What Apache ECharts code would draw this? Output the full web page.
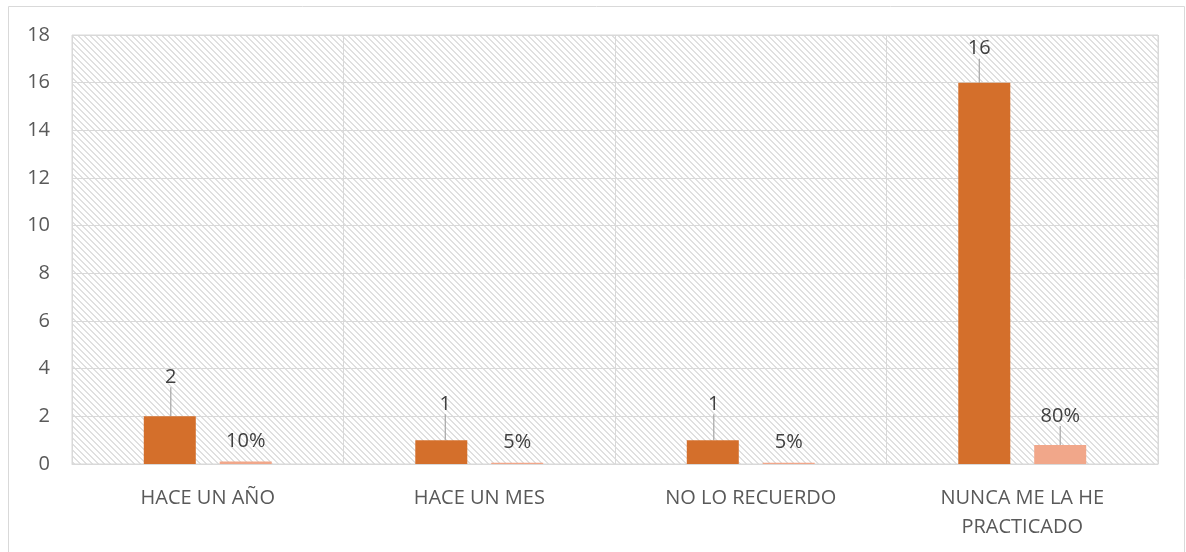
<!DOCTYPE html>
<html>
<head>
<meta charset="utf-8">
<script src="https://cdn.jsdelivr.net/npm/echarts@6/dist/echarts.min.js"></script>
<style>
  html, body { margin: 0; padding: 0; background: #fff; }
  #chart { width: 1186px; height: 552px; }
</style>
</head>
<body>
<div id="chart"></div>
<script>
// categorías y valores
const categories = ['HACE UN AÑO', 'HACE UN MES', 'NO LO RECUERDO', 'NUNCA ME LA HE\nPRACTICADO'];
const counts = [2, 1, 1, 16];
const shares = [0.10, 0.05, 0.05, 0.80];
const yTicks = { min: 0, max: 18, interval: 2 };

// desplazamiento manual de etiquetas (como en Excel)
const countLabelShift = [[1, -24], [4, -21], [1, -21], [-5, -19]];
const shareLabelShift = [[0, -5], [0, -6], [0, -6], [0, -14]];

function hatch() {
  const n = 6;
  const c = document.createElement('canvas');
  c.width = n; c.height = n;
  const g = c.getContext('2d');
  g.fillStyle = '#e0e0e0';
  for (let i = 0; i < n; i++) {
    g.fillRect(i, i, 1, 1);
    g.fillRect((i + 1) % n, i, 1, 1);
  }
  return c;
}

const chart = echarts.init(document.getElementById('chart'), null, { renderer: 'canvas' });
const font = 'Open Sans, Noto Sans, sans-serif';

chart.setOption({
  animation: false,
  textStyle: { fontFamily: font },
  graphic: [{
    type: 'rect', silent: true, z: -10,
    shape: { x: 8.5, y: 6.5, width: 1176, height: 570 },
    style: { fill: '#fff', stroke: '#d9d9d9', lineWidth: 1 }
  }],
  grid: {
    left: 72, right: 28, top: 35, bottom: 88,
    show: true,
    borderColor: '#d9d9d9',
    borderWidth: 1,
    backgroundColor: { image: hatch(), repeat: 'repeat' }
  },
  xAxis: {
    type: 'category',
    data: categories,
    axisTick: { show: false },
    axisLine: { lineStyle: { color: '#d9d9d9', width: 1 } },
    splitLine: { show: true, lineStyle: { color: '#d9d9d9', width: 1 } },
    axisLabel: { color: '#595959', fontSize: 20, margin: 20, lineHeight: 29, interval: 0 }
  },
  yAxis: {
    type: 'value',
    min: yTicks.min, max: yTicks.max, interval: yTicks.interval,
    axisLine: { show: false },
    axisTick: { show: false },
    splitLine: { lineStyle: { color: '#d9d9d9', width: 1 } },
    axisLabel: { color: '#595959', fontSize: 20, margin: 22 }
  },
  series: [
    {
      name: 'Cantidad',
      type: 'bar',
      data: counts,
      barWidth: 52,
      barGap: '46%',
      itemStyle: { color: '#d46f2b' },
      label: { show: true, position: 'top', color: '#404040', fontSize: 20, fontFamily: font },
      labelLine: { show: true, lineStyle: { color: '#a6a6a6', width: 1.2 } },
      labelLayout: (p) => ({ dx: countLabelShift[p.dataIndex][0], dy: countLabelShift[p.dataIndex][1] })
    },
    {
      name: 'Porcentaje',
      type: 'bar',
      data: shares.map((v, i) => ({
        value: v,
        labelLine: { show: i === 3 }
      })),
      barWidth: 52,
      itemStyle: { color: '#f1a78a' },
      label: {
        show: true, position: 'top', color: '#404040', fontSize: 20, fontFamily: font,
        formatter: (p) => Math.round(p.value * 100) + '%'
      },
      labelLine: { show: false, lineStyle: { color: '#a6a6a6', width: 1.2 } },
      labelLayout: (p) => ({ dx: shareLabelShift[p.dataIndex][0], dy: shareLabelShift[p.dataIndex][1] })
    }
  ]
});
</script>
</body>
</html>
